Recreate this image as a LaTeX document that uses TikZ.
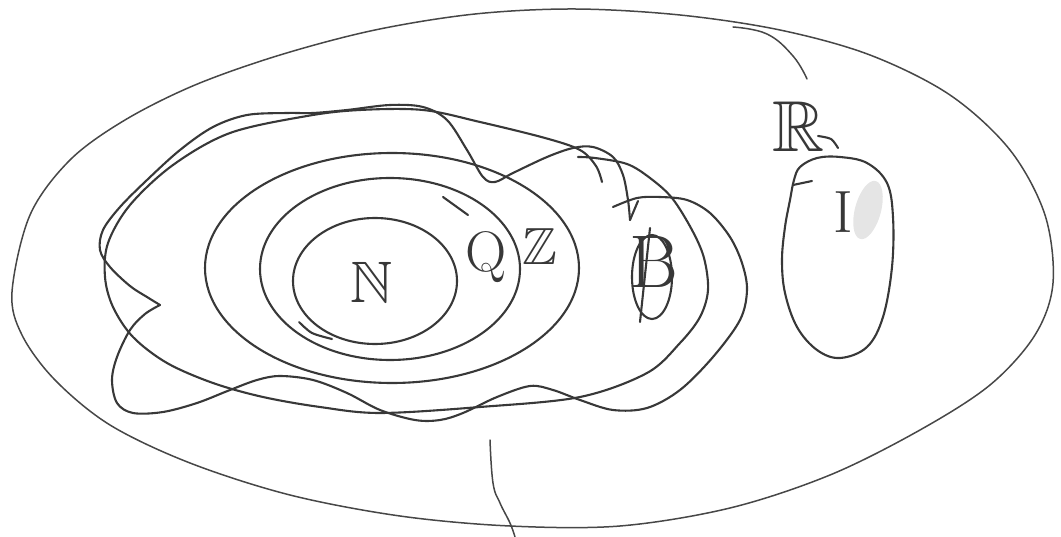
\documentclass[tikz,border=0pt]{standalone}
\usepackage{amssymb}
\begin{document}
\begin{tikzpicture}[x=1pt,y=-1pt,
  pen/.style={draw=black!78,line width=2.1pt,line cap=round,line join=round},
  thinpen/.style={draw=black!72,line width=1.5pt,line cap=round,line join=round},
  lbl/.style={text=black!78,inner sep=0pt,font=\Huge}]
\useasboundingbox (0,0) rectangle (1061,537);
% outer ellipse
\draw[thinpen] plot[smooth cycle,tension=0.55] coordinates {
 (12,292) (30,215) (70,160) (125,120) (195,85) (280,55) (375,30) (475,14) (575,9)
 (680,15) (780,30) (870,55) (950,95) (1010,150) (1045,215) (1053,283) (1035,335)
 (990,385) (920,430) (830,475) (730,508) (620,526) (510,526) (400,516) (290,495)
 (190,463) (110,425) (55,380) (22,335)};
% arc at top right
\draw[thinpen] plot[smooth,tension=0.7] coordinates {(733,27) (767,34) (793,56) (807,79)};
% bottom stroke
\draw[thinpen] plot[smooth,tension=0.7] coordinates {(490,440) (493,483) (500,503) (510,523) (515,537)};
% N ellipse
\draw[pen] (375,281) ellipse[x radius=82,y radius=63];
\draw[pen] plot[smooth] coordinates {(299,322) (312,333) (332,339)};
% Q ellipse
\draw[pen] (390,269) ellipse[x radius=130,y radius=91];
\draw[pen] (443,197) -- (468,215);
% Z ellipse
\draw[pen] (392,268) ellipse[x radius=187,y radius=115];
% E1 (large smooth)
\draw[pen] plot[smooth,tension=0.55] coordinates {
 (602,182) (596,166) (580,150) (545,138) (480,122) (423,110) (360,110) (307,116)
 (230,133) (173,165) (130,205) (108,243) (105,277) (113,307) (133,337) (167,363)
 (213,383) (263,397) (320,407) (380,413) (480,407) (580,397) (647,373) (680,343)
 (700,317) (708,290) (704,258) (692,230) (672,198) (650,178) (627,164) (595,158) (578,157)};
% wavy blob
\draw[pen] plot[smooth,tension=0.55] coordinates {
 (630,220) (628,200) (623,175) (613,157) (593,147) (573,148) (547,157) (513,173)
 (495,182) (483,177) (467,150) (447,120) (423,107) (390,105) (347,110) (313,113)
 (287,113) (247,115) (213,127) (180,150) (147,180) (120,207) (103,230) (100,250)
 (110,267) (130,286) (147,297) (160,305)};
\draw[pen] plot[smooth,tension=0.55] coordinates {
 (160,305) (145,314) (130,330) (117,357) (112,380) (117,403) (133,413) (163,412)
 (197,403) (230,390) (257,380) (280,376) (313,380) (347,393) (380,410) (415,420)
 (440,420) (463,413) (497,397) (530,386) (553,390) (580,400) (613,410) (647,408)
 (680,390) (713,357) (740,320) (747,290) (742,263) (730,237) (710,213) (687,200)
 (660,197) (637,198) (613,207)};
\draw[pen] (630,220) -- (638,201);
% small ellipse with symbol
\draw[pen] (652,277) ellipse[x radius=20,y radius=42];
\node[lbl,scale=3] (b) at (654,262) {B};
\draw[pen] (650,228) -- (640,322);
% I blob
\fill[black!10,rotate around={-15:(868,210)}] (868,210) ellipse[x radius=13,y radius=30];
\draw[pen] plot[smooth cycle,tension=0.6] coordinates {
 (800,167) (817,158) (840,157) (867,163) (887,183) (893,217) (892,267) (883,317)
 (867,347) (840,358) (817,350) (797,327) (785,293) (782,260) (785,227) (790,200) (794,180)};
\draw[pen] (793,185) -- (812,181);
% labels
\node[lbl,scale=2.35] (n) at (372,282) {$\mathbb{N}$};
\node[lbl,scale=2.3] (q) at (486,257) {Q};
\node[lbl,scale=2.1] (z) at (540,247) {$\mathbb{Z}$};
\node[lbl,scale=2.9] (r) at (799,127) {$\mathbb{R}$};
\draw[pen] plot[smooth] coordinates {(818,136) (831,139) (838,148)};
\node[lbl,scale=2.4] (i) at (843,212) {I};
\end{tikzpicture}
\end{document}
